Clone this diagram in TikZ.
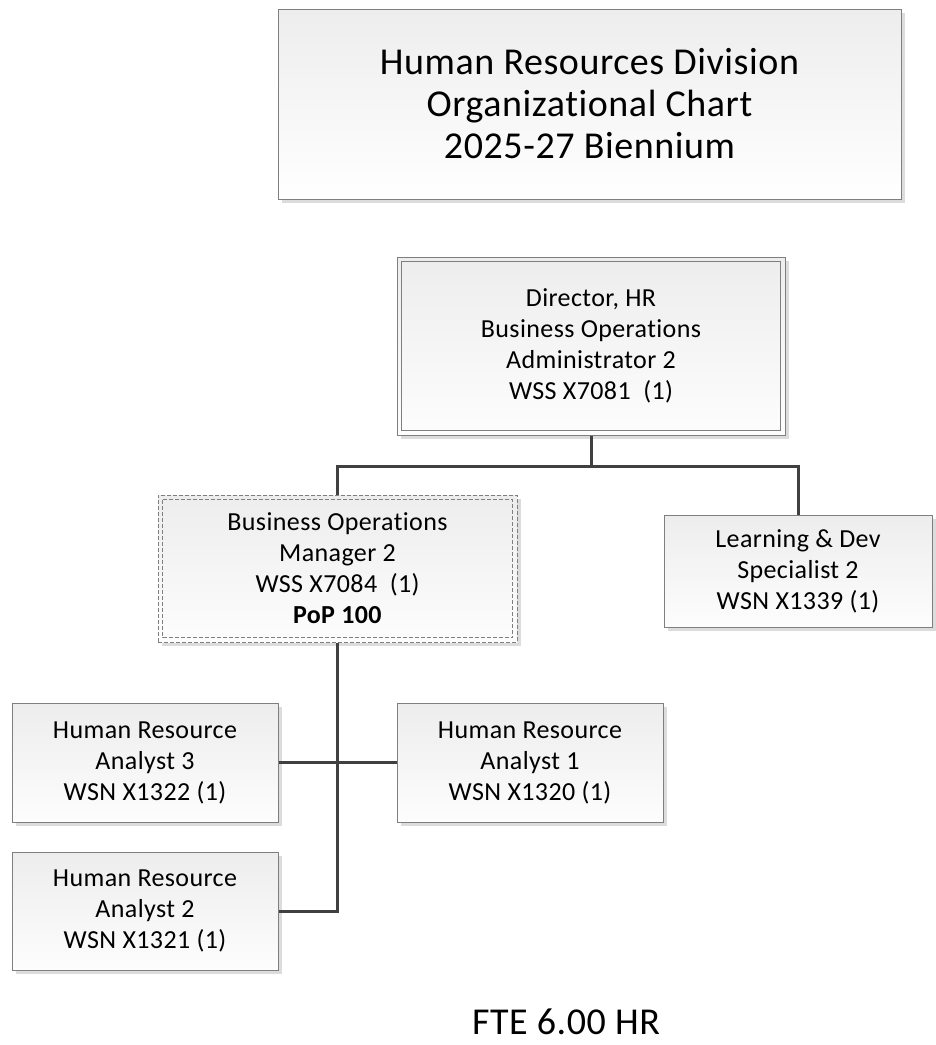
\documentclass[tikz,border=0pt]{standalone}
\usepackage{fontspec}
\setmainfont{Carlito}[Ligatures=NoCommon,LetterSpace=1.5]
\usetikzlibrary{shadows}
\definecolor{bordergray}{HTML}{7F7F7F}
\definecolor{linegray}{HTML}{404040}
\definecolor{shadegray}{HTML}{DCDCDC}
\definecolor{topgray}{HTML}{EDEDED}
\definecolor{botgray}{HTML}{FDFDFD}
\tikzset{
  box/.style={draw=bordergray, line width=1pt, top color=topgray, bottom color=botgray,
    align=center, inner sep=0pt, font=\fontsize{26}{31}\selectfont,
    drop shadow={shadow xshift=4pt, shadow yshift=-4pt, fill=shadegray, opacity=1}},
  innerline/.style={draw=bordergray, line width=1pt},
  dashline/.style={dash pattern=on 4pt off 2pt},
  conn/.style={draw=linegray, line width=3pt},
}
\begin{document}
\begin{tikzpicture}[x=1pt,y=-1pt]
\useasboundingbox (0,0) rectangle (936,1045);

% title
\node[box, minimum width=623pt, minimum height=190pt, font=\fontsize{38}{42}\selectfont,
  top color=topgray, bottom color=white] (title) at (589.5,104)
  {Human Resources Division\\Organizational Chart\\2025-27 Biennium};

% director
\node[box, minimum width=388pt, minimum height=178pt] (dir) at (591,346)
  {Director, HR\\Business Operations\\Administrator 2\\WSS X7081\ \ (1)};
\draw[innerline] ([shift={(5,5)}]dir.north west) rectangle ([shift={(-5,-5)}]dir.south east);

% manager
\node[box, dashline, minimum width=359pt, minimum height=147pt] (mgr) at (337.5,568.5)
  {Business Operations\\Manager 2\\WSS X7084\ \ (1)\\\textbf{PoP 100}};
\draw[innerline, dashline] ([shift={(5,5)}]mgr.north west) rectangle ([shift={(-5,-5)}]mgr.south east);

% learning
\node[box, minimum width=268pt, minimum height=112pt] (lrn) at (798,571)
  {Learning \& Dev\\Specialist 2\\WSN X1339 (1)};

% analysts
\node[box, minimum width=266pt, minimum height=119pt] (a3) at (145,762.5)
  {Human Resource\\Analyst 3\\WSN X1322 (1)};
\node[box, minimum width=266pt, minimum height=119pt] (a1) at (530,762.5)
  {Human Resource\\Analyst 1\\WSN X1320 (1)};
\node[box, minimum width=266pt, minimum height=118pt] (a2) at (145,911)
  {Human Resource\\Analyst 2\\WSN X1321 (1)};

% FTE
\node[font=\fontsize{38}{42}\selectfont, anchor=base, inner sep=0pt] (fte) at (566,1034) {FTE 6.00 HR};

% connectors
\coordinate (bus) at (0,466);
\draw[conn] (dir.south) -- (dir.south |- bus);
\draw[conn] (mgr.north) -- (mgr.north |- bus) -- (lrn.north |- bus) -- (lrn.north);
\draw[conn] (mgr.south) -- (mgr.south |- a2.east) -- (a2.east);
\draw[conn] (a3.east) -- (a1.west);
\end{tikzpicture}
\end{document}
